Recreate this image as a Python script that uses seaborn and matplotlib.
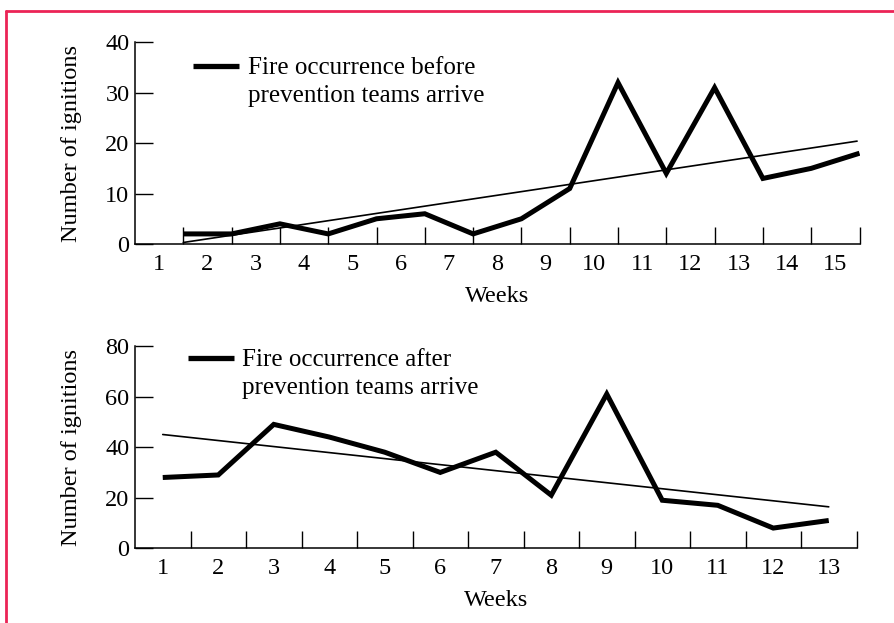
import numpy as np
import pandas as pd
import matplotlib
matplotlib.use("Agg")
import matplotlib.pyplot as plt
from matplotlib.lines import Line2D
from matplotlib.ticker import FixedLocator, NullFormatter, FixedFormatter
import seaborn as sns

# ---- data ----
weeks_before = list(range(1, 16))
ignitions_before = [2, 2, 4, 2, 5, 6, 2, 5, 11, 32, 14, 31, 13, 15, 18]
trend_before_weeks = [1, 14.95]
trend_before_vals = [0.3, 20.4]

weeks_after = list(range(1, 14))
ignitions_after = [28, 29, 49, 44, 38, 30, 38, 21, 61, 19, 17, 8, 11]
trend_after_weeks = [1, 13]
trend_after_vals = [45.0, 16.4]

label_before = ["Fire occurrence before", "prevention teams arrive"]
label_after = ["Fire occurrence after", "prevention teams arrive"]

sns.set_theme(style="white")
plt.rcParams['font.family'] = ['Liberation Serif', 'DejaVu Serif']
FS = 17.5
LFS = 18

W, H = 894, 623
fig = plt.figure(figsize=(W / 100, H / 100), dpi=100)

def axrect(l, r, t, b):
    return [l / W, 1 - b / H, (r - l) / W, (b - t) / H]

ax1 = fig.add_axes(axrect(135, 859.5, 42.3, 244))
ax2 = fig.add_axes(axrect(135, 856.5, 346, 548.3))

def style(ax, n, ymax, ystep):
    ax.set_xlim(0, n)
    ax.set_ylim(0, ymax)
    for s in ["top", "right"]:
        ax.spines[s].set_visible(False)
    for s in ["left", "bottom"]:
        ax.spines[s].set_color("black")
        ax.spines[s].set_linewidth(1.1)
    ax.xaxis.set_major_locator(FixedLocator(list(range(1, n + 1))))
    ax.xaxis.set_major_formatter(NullFormatter())
    ax.xaxis.set_minor_locator(FixedLocator([k - 0.5 for k in range(1, n + 1)]))
    ax.xaxis.set_minor_formatter(FixedFormatter([str(k) for k in range(1, n + 1)]))
    ax.tick_params(axis="x", which="major", direction="in", length=12, width=1.0,
                   color="black", bottom=True)
    ax.tick_params(axis="x", which="minor", length=0, labelsize=FS, pad=7,
                   labelcolor="black", bottom=True)
    ax.set_yticks(np.arange(0, ymax + 1, ystep))
    ax.tick_params(axis="y", direction="in", length=13, width=1.0, color="black",
                   labelsize=FS, pad=4, labelcolor="black", left=True)
    ax.set_xlabel("Weeks", fontsize=FS, color="black", labelpad=8)
    ax.set_ylabel("Number of ignitions", fontsize=FS, color="black", labelpad=17)
    ax.grid(False)
    ax.set_facecolor("none")

# top chart
df_b = pd.DataFrame({"week": weeks_before, "n": ignitions_before})
sns.lineplot(data=df_b, x="week", y="n", ax=ax1, color="black", linewidth=3.6,
             solid_joinstyle="miter", solid_capstyle="butt")
sns.lineplot(x=trend_before_weeks, y=trend_before_vals, ax=ax1, color="black",
             linewidth=1.2)
style(ax1, 15, 40, 10)

# bottom chart
df_a = pd.DataFrame({"week": [w - 0.5 for w in weeks_after], "n": ignitions_after})
sns.lineplot(data=df_a, x="week", y="n", ax=ax2, color="black", linewidth=3.6,
             solid_joinstyle="miter", solid_capstyle="butt")
sns.lineplot(x=[w - 0.5 for w in trend_after_weeks], y=trend_after_vals, ax=ax2,
             color="black", linewidth=1.2)
style(ax2, 13, 80, 20)

def add_legend(ax, labels, anchor):
    h1 = Line2D([], [], color="black", linewidth=3.8, solid_capstyle="butt")
    h2 = Line2D([], [], color="none", linewidth=0)
    ax.legend([h1, h2], labels, loc="upper left", bbox_to_anchor=anchor,
              frameon=False, fontsize=LFS, handlelength=1.85, handletextpad=0.33,
              labelspacing=0.21, borderaxespad=0, borderpad=0,
              labelcolor="black")

add_legend(ax1, label_before, ((193 - 135) / (859.5 - 135), 1 - (57 - 42.3) / (244 - 42.3)))
add_legend(ax2, label_after, ((188 - 135) / (856.5 - 135), 1 - (349 - 346) / (548.3 - 346)))

# page border
fig.add_artist(Line2D([6 / W, 6 / W], [0, 1 - 11 / H], color="#eb2456",
                      linewidth=2.0, transform=fig.transFigure))
fig.add_artist(Line2D([6 / W, 1], [1 - 11 / H, 1 - 11 / H], color="#eb2456",
                      linewidth=2.0, transform=fig.transFigure))

fig.savefig("out.png", dpi=100)
